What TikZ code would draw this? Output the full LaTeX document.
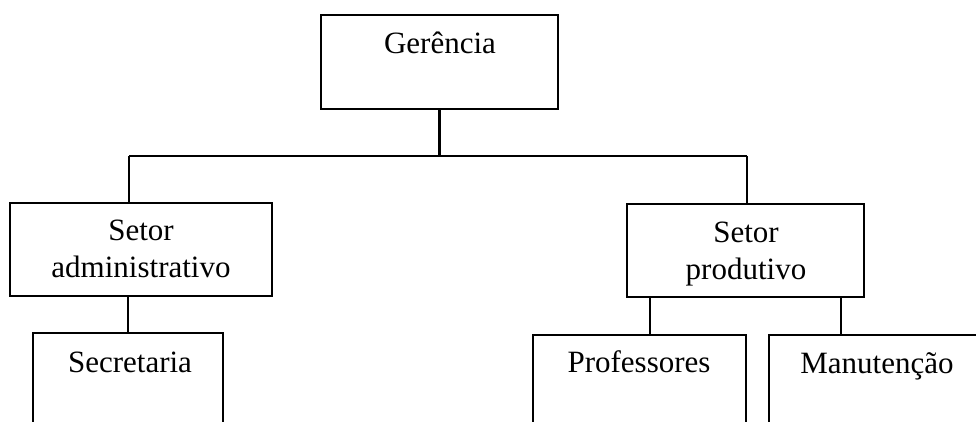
\documentclass[tikz,border=0pt]{standalone}
\usepackage{fontspec}
\setmainfont{Liberation Serif}
\begin{document}
\begin{tikzpicture}[x=1pt,y=-1pt,line width=2.2pt,
  box/.style={draw, rectangle, inner sep=0pt, line width=2.2pt},
  lbl/.style={font=\fontsize{31}{37}\selectfont, align=center, inner sep=0pt, anchor=base}]
\useasboundingbox (0,0) rectangle (976,422);
\clip (0,0) rectangle (976,422);
% boxes
\node[box, minimum width=237pt, minimum height=94pt] (ger) at (439.5,62) {};
\node[box, minimum width=262pt, minimum height=93pt] (adm) at (141,249.5) {};
\node[box, minimum width=237pt, minimum height=93pt] (prod) at (745.5,250.5) {};
\node[box, minimum width=190pt, minimum height=117pt] (sec) at (128,391.5) {};
\node[box, minimum width=213pt, minimum height=115pt] (prof) at (639.5,392.5) {};
\node[box, minimum width=221pt, minimum height=115pt] (man) at (879.5,392.5) {};
% texts
\node[lbl] (tger) at (440,54) {Gerência};
\node[lbl] (tadm) at (141,277) {Setor\\administrativo};
\node[lbl] (tprod) at (746,279) {Setor\\produtivo};
\node[lbl] (tsec) at (130,372) {Secretaria};
\node[lbl] (tprof) at (639,372) {Professores};
\node[lbl] (tman) at (877,373) {Manutenção};
% connectors
\coordinate (busL) at (129,156);
\coordinate (busR) at (747,156);
\draw (ger.south) -- (ger.south |- busL);
\draw (busL) -- (busR);
\draw (busL) -- (busL |- adm.north);
\draw (busR) -- (busR |- prod.north);
\draw (sec.north) -- (sec.north |- adm.south);
\coordinate (pl) at ([xshift=24pt]prod.south west);
\coordinate (pr) at ([xshift=-24pt]prod.south east);
\draw (pl) -- (pl |- prof.north);
\draw (pr) -- (pr |- man.north);
\end{tikzpicture}
\end{document}
